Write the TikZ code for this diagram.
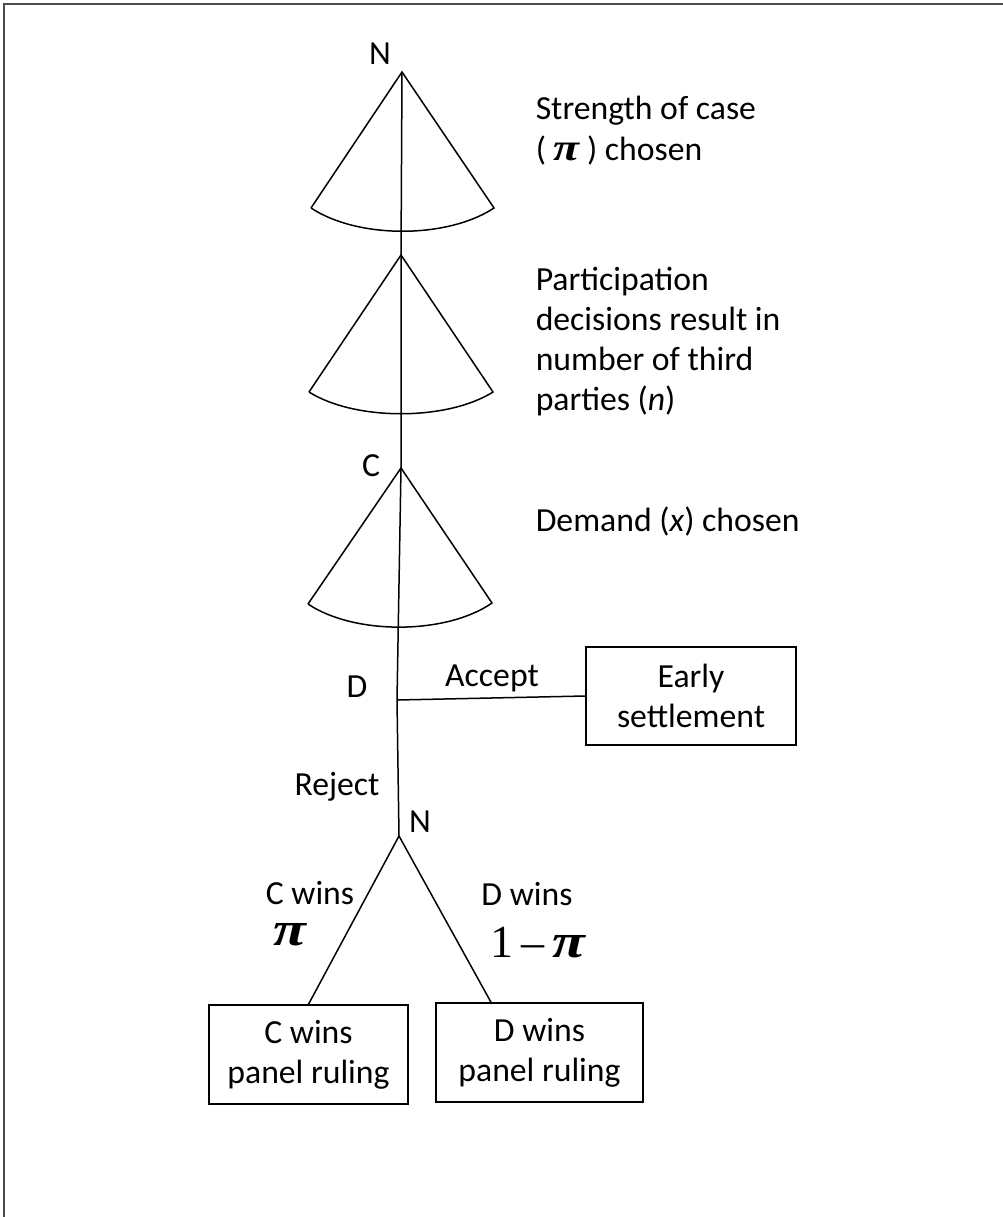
\documentclass[tikz,border=0pt]{standalone}
\usepackage{fontspec}
\usepackage{graphicx}
\setmainfont{Carlito}
\newfontfamily\timesf{Liberation Serif}
\newcommand{\bigpi}[1]{\scalebox{1.25}[1]{\timesf\bfseries\itshape\fontsize{#1}{#1}\selectfont π}}
\begin{document}
\begin{tikzpicture}[x=1pt,y=-1pt,
  line width=1.5pt,
  lbl/.style={inner sep=0pt, font=\fontsize{33.7}{40}\selectfont},
  side/.style={lbl, anchor=west, align=left},
  outcome/.style={draw, line width=1.5pt, font=\fontsize{33.7}{40}\selectfont, align=center, inner sep=0pt},
  frameline/.style={black!70, line width=2.5pt},
]
\useasboundingbox (0,0) rectangle (1003,1217);
\draw[frameline] (1003,4) -- (4,4) -- (4,1217);

% fan 1
\coordinate (a1) at (402,72);
\coordinate (l1) at (311,208);
\coordinate (r1) at (494,208);
\draw (l1) -- (a1) -- (r1) .. controls (447,239) and (358,239) .. (l1);
% fan 2
\coordinate (a2) at (401,255);
\coordinate (l2) at (309,392);
\coordinate (r2) at (493,392);
\draw (l2) -- (a2) -- (r2) .. controls (447,421) and (355,421) .. (l2);
% fan 3
\coordinate (a3) at (401,468);
\coordinate (l3) at (308,604);
\coordinate (r3) at (492,603);
\draw (l3) -- (a3) -- (r3) .. controls (446,635) and (354,635) .. (l3);

\coordinate (dpt) at (397,700);
\coordinate (n2) at (399,836);
\draw (a1) -- (a2) -- (a3) -- (dpt) -- (n2);

% player labels
\node[lbl] (lN1) at (380,54) {N};
\node[lbl] (lC) at (371,466) {C};
\node[lbl] (lD) at (357,687) {D};
\node[lbl] (lAcc) at (492,678) {Accept};
\node[lbl] (lRej) at (337,787) {Reject};
\node[lbl] (lN2) at (420,822) {N};

% side texts
\node[side] (t1) at (535,131) {Strength of case\\[1pt]( \bigpi{38} ) chosen};
\node[side] (t2) at (535,342) {Participation\\decisions result in\\number of third\\parties (\textit{n})};
\node[side] (t3) at (535,522) {Demand (\textit{x}) chosen};

% outcomes
\node[outcome, minimum width=210pt, minimum height=98pt] (early) at (691,696) {Early\\settlement};
\node[outcome, minimum width=199pt, minimum height=99pt] (bC) at (308.5,1054.5) {C wins\\panel ruling};
\node[outcome, minimum width=207pt, minimum height=99pt] (bD) at (539.5,1052.5) {D wins\\panel ruling};

\draw (dpt) -- (early.west);
\draw (n2) -- (bC.north);
\draw (n2) -- ([xshift=-48.5pt]bD.north);

% branch labels
\node[lbl] (lCw) at (310,893) {C wins};
\node[lbl] (pC) at (290,935) {\bigpi{48}};
\node[lbl] (lDw) at (527,894) {D wins};
\node[lbl, font={\timesf\fontsize{46}{46}\selectfont}] (pD) at (538,943) {1\,–\,\bigpi{48}};
\end{tikzpicture}
\end{document}
